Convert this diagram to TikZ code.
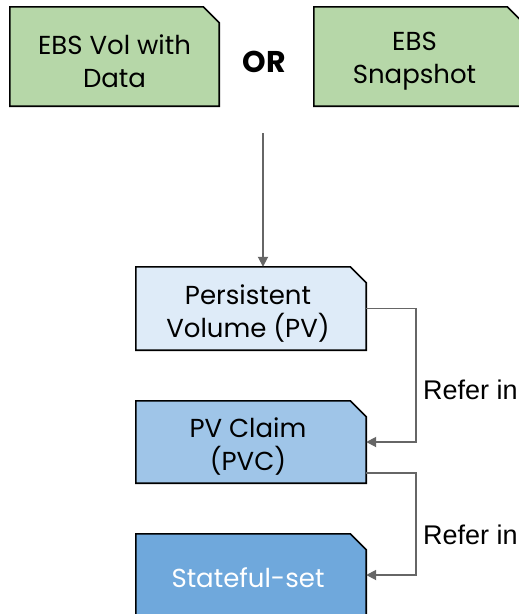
\documentclass[tikz,border=0pt]{standalone}
\usepackage{fontspec}
\setmainfont{Poppins}
\newfontfamily\labelfont{Liberation Sans}
\usetikzlibrary{arrows.meta,calc}
\definecolor{ebsgreen}{HTML}{B6D7A8}
\definecolor{pvblue}{HTML}{DEEBF8}
\definecolor{pvcblue}{HTML}{9FC5E8}
\definecolor{ssblue}{HTML}{6FA8DC}
\definecolor{conngray}{HTML}{666666}
\newcommand\cutcard[2]{%
  \filldraw[cardline, fill=#2] (#1.south west) -- (#1.north west)
    -- ($(#1.north east)+(-16,0)$) -- ($(#1.north east)+(0,16)$)
    -- (#1.south east) -- cycle;}
\tikzset{
  cardbox/.style={rectangle, inner sep=0pt},
  cardline/.style={draw=black, line width=1.6pt, line join=miter},
  cardtext/.style={inner sep=0pt, align=center, font=\fontsize{26}{33}\selectfont},
  conn/.style={draw=conngray, line width=1.8pt, -{Triangle[length=10pt,width=10pt]}},
  lbl/.style={font=\labelfont\fontsize{27}{30}\selectfont, anchor=west, inner sep=0pt}
}
\begin{document}
\begin{tikzpicture}[x=1pt,y=-1pt]
\useasboundingbox (0,0) rectangle (519,614);
\node[cardbox, minimum width=209pt, minimum height=99pt] (ebsvol) at (114.5,56.5) {};
\cutcard{ebsvol}{ebsgreen}
\node[cardtext] (ebsvoltext) at ($(ebsvol.center)+(0,5)$) {EBS Vol with\\Data};
\node[cardbox, minimum width=209pt, minimum height=99pt] (snap) at (418.5,56.5) {};
\cutcard{snap}{ebsgreen}
\node[cardtext] (snaptext) at ($(snap.center)+(-4,5)$) {EBS\\Snapshot};
\node[font=\bfseries\fontsize{30}{34}\selectfont, inner sep=0pt] (or) at (264,62) {OR};
\node[cardbox, minimum width=230pt, minimum height=83pt] (pv) at (251,308.5) {};
\cutcard{pv}{pvblue}
\node[cardtext] (pvtext) at ($(pv.center)+(-3,5)$) {Persistent\\Volume (PV)};
\node[cardbox, minimum width=230pt, minimum height=82pt] (pvc) at (251,442) {};
\cutcard{pvc}{pvcblue}
\node[cardtext] (pvctext) at ($(pvc.center)+(-3,5)$) {PV Claim\\(PVC)};
\node[cardbox, minimum width=230pt, minimum height=82pt] (ss) at (251,575) {};
\cutcard{ss}{ssblue}
\node[cardtext, text=white] (sstext) at ($(ss.center)+(-3,3)$) {Stateful-set};
\coordinate (src) at (263,133);
\draw[conn] (src) -- (src |- pv.north);
\draw[conn] (pv.east) -- ++(50,0) |- (pvc.east);
\coordinate (pvcout) at ($(pvc.south east)+(0,-10)$);
\draw[conn] (pvcout) -- ++(50,0) |- (ss.east);
\node[lbl] (ref1) at (423,390) {Refer in};
\node[lbl] (ref2) at (423,535) {Refer in};
\end{tikzpicture}
\end{document}
